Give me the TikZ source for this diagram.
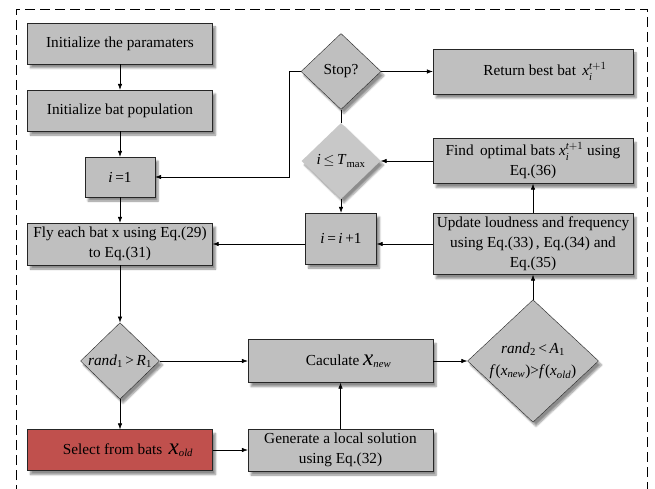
\documentclass[tikz,border=0pt]{standalone}
\usepackage{amsmath}
\usepackage{fontspec}
\setmainfont{Liberation Serif}
\usetikzlibrary{shapes.geometric,arrows.meta,shadows.blur}

\definecolor{boxgray}{HTML}{BFBFBF}
\definecolor{condgray}{HTML}{C8C8C8}
\definecolor{selred}{HTML}{C0504D}
\newcommand{\bigx}{{\fontsize{23}{23}\selectfont\textit{x}}}

\begin{document}
\begin{tikzpicture}
  [x=1pt,y=-1pt,font=\fontsize{15.3}{20}\selectfont,
   every node/.style={draw=black!85,fill=boxgray,inner sep=1pt,align=center,
     blur shadow={shadow xshift=3pt,shadow yshift=-4pt,shadow blur steps=6,shadow opacity=45}},
   wide/.style={minimum width=185pt,minimum height=41pt},
   right/.style={minimum width=200pt,minimum height=45pt},
   choice/.style={diamond,inner sep=0pt},
   arr/.style={-{Latex[length=6pt,width=4.5pt]},line width=0.6pt}]
  \useasboundingbox (0,0) rectangle (655,489);
  \draw[line width=0.8pt,dash pattern=on 10pt off 5pt] (16,495) -- (16,9) -- (647,9) -- (647,495);

  \node[wide] (init) at (120,43.5)  {Initialize the paramaters};
  \node[wide] (pop)  at (120,110.5) {Initialize bat population};
  \node[minimum width=70pt,minimum height=40pt] (ione) at (120,177) {\textit{i}\,=1};
  \node[wide,minimum height=42pt] (fly) at (120,244) {Fly each bat x using Eq.(29)\\to Eq.(31)};
  \node[choice,minimum width=79pt,minimum height=75pt] (rone) at (120,361)
    {\textit{rand}\textsubscript{1}\,>\,\textit{R}\textsubscript{1}};
  \node[wide,fill=selred] (sel) at (120,450) {\hspace{16pt}Select from bats \,\bigx\textsubscript{\textit{old}}};

  \node[wide,minimum height=43pt] (calc) at (340.5,361) {\hspace{16pt}Caculate \bigx\textsubscript{\textit{new}}};
  \node[wide,minimum height=42pt] (gen) at (340.5,450) {Generate a local solution\\using Eq.(32)};

  \node[choice,minimum width=80pt,minimum height=76pt] (stop) at (341,71.5) {Stop?};
  \node[choice,minimum width=79pt,minimum height=76pt,draw=none,fill=condgray] (tmax) at (341,161)
    {\textit{i}\,$\le$\,\textit{T}\textsubscript{max}};
  \node[minimum width=71pt,minimum height=51pt] (inc) at (341,238.5) {\textit{i}\,=\,\textit{i}\,+1};

  \node[right] (ret)  at (533,71.5) {\hspace{24pt}Return best bat \,$\textit{x}_{\textit{i}}^{\textit{t}+1}$};
  \node[right] (find) at (533,161) {Find\, optimal bats $\textit{x}_{\textit{i}}^{\textit{t}+1}$ using\\Eq.(36)};
  \node[right,minimum height=61pt] (upd) at (533,244) {Update loudness and frequency\\using Eq.(33)\,, Eq.(34) and\\Eq.(35)};
  \node[choice,minimum width=131pt,minimum height=120pt] (rtwo) at (533,361)
    {\textit{rand}\textsubscript{2}\,<\,\textit{A}\textsubscript{1}\\[2pt]%
     \textit{f}(\textit{x}\textsubscript{\textit{new}})>\textit{f}(\textit{x}\textsubscript{\textit{old}})};

  \foreach \from/\to in {init/pop,pop/ione,ione/fly,fly/rone,rone/sel,rone/calc,
      sel/gen,gen/calc,calc/rtwo,rtwo/upd,upd/find,find/tmax,stop/ret,tmax/inc}
    \draw[arr] (\from) -- (\to);
  \draw[line width=0.6pt] (stop) -- (tmax);
  \draw[arr] (stop.west) -- ++(-12,0) |- (ione);
  \draw[arr] (upd) -- (inc.east |- upd);
  \draw[arr] (inc.west |- fly) -- (fly);
\end{tikzpicture}
\end{document}
